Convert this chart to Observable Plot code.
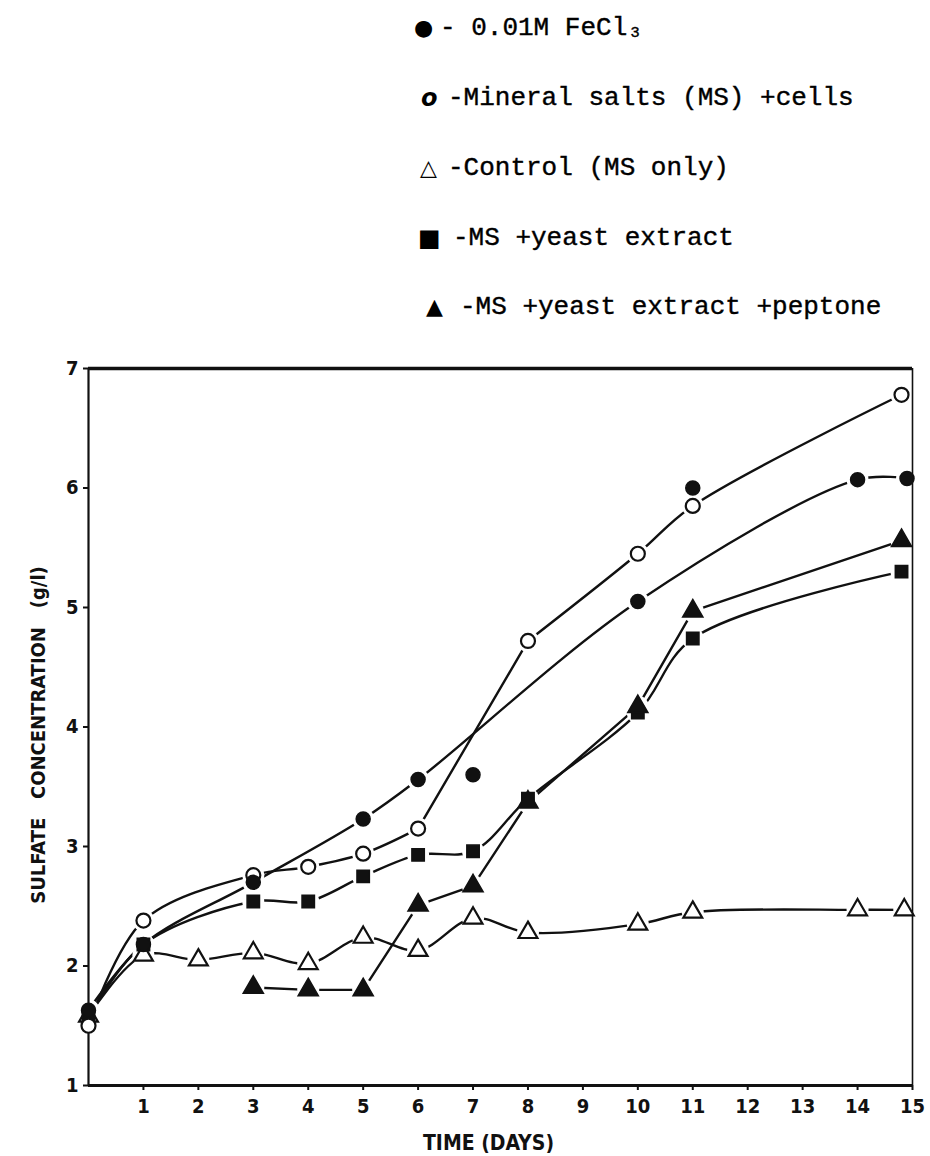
<!DOCTYPE html>
<html>
<head>
<meta charset="utf-8">
<script src="https://cdn.jsdelivr.net/npm/d3@7"></script>
<script src="https://cdn.jsdelivr.net/npm/@observablehq/plot@0.6"></script>
<style>
  html, body { margin: 0; padding: 0; background: #fff; }
  #page { position: relative; width: 930px; height: 1156px; overflow: hidden; }
  #legend { position: absolute; left: 0; top: 0; width: 930px; height: 340px;
    font-family: "Liberation Mono", "DejaVu Sans Mono", monospace; font-size: 26px; color: #000;
    -webkit-text-stroke: 0.4px #000; }
  .row { position: absolute; height: 30px; line-height: 30px; white-space: pre; }
  .sym { position: absolute; font-family: "DejaVu Sans", sans-serif; -webkit-text-stroke: 0; }
  #chart { position: absolute; left: 0; top: 340px; }
</style>
</head>
<body>
<div id="page">
  <div id="legend"></div>
  <div id="chart"></div>
</div>
<script>
// ---- Data (sulfate concentration, g/l, vs time, days) ----
const fecl3Days = [0, 1, 3, 5, 6, 10, 14, 14.9];
const fecl3Values = [1.63, 2.18, 2.70, 3.23, 3.56, 5.05, 6.07, 6.08];
const fecl3ExtraDays = [7, 11];          // plotted points not on the curve
const fecl3ExtraValues = [3.60, 6.00];

const msCellsDays = [0, 1, 3, 4, 5, 6, 8, 10, 11, 14.8];
const msCellsValues = [1.50, 2.38, 2.76, 2.83, 2.94, 3.15, 4.72, 5.45, 5.85, 6.78];

const controlDays = [0, 1, 2, 3, 4, 5, 6, 7, 8, 10, 11, 14, 14.85];
const controlValues = [1.58, 2.09, 2.05, 2.11, 2.02, 2.24, 2.13, 2.40, 2.28, 2.35, 2.45, 2.47, 2.47];

const yeastDays = [0, 1, 3, 4, 5, 6, 7, 8, 10, 11, 14.8];
const yeastValues = [1.57, 2.18, 2.54, 2.54, 2.75, 2.93, 2.96, 3.40, 4.12, 4.74, 5.30];

const peptoneDays = [3, 4, 5, 6, 7, 8, 10, 11, 14.8];
const peptoneValues = [1.82, 1.80, 1.80, 2.51, 2.67, 3.37, 4.17, 4.97, 5.56];

const xTicks = [1, 2, 3, 4, 5, 6, 7, 8, 9, 10, 11, 12, 13, 14, 15];
const yTicks = [1, 2, 3, 4, 5, 6, 7];

const seriesNames = [
  "- 0.01M FeCl\u2083",
  "-Mineral salts (MS) +cells",
  "-Control (MS only)",
  "-MS +yeast extract",
  "-MS +yeast extract +peptone"
];
const xTitle = "TIME (DAYS)";
const yTitle = "SULFATE   CONCENTRATION   (g/l)";

// ---- Build tables ----
const zip = (days, vals) => days.map((d, i) => ({day: d, value: vals[i]}));
const fecl3 = zip(fecl3Days, fecl3Values);
const fecl3Extra = zip(fecl3ExtraDays, fecl3ExtraValues);
const msCells = zip(msCellsDays, msCellsValues);
const control = zip(controlDays, controlValues);
const yeast = zip(yeastDays, yeastValues);
const peptone = zip(peptoneDays, peptoneValues);
const allPoints = [...fecl3, ...fecl3Extra, ...msCells, ...control, ...yeast, ...peptone];

const lineOpts = {x: "day", y: "value", stroke: "#111", strokeWidth: 2.4};
const R = 7;

const chart = Plot.plot({
  width: 930,
  height: 816,
  marginTop: 28,
  marginBottom: 71,
  marginLeft: 88,
  marginRight: 18,
  x: {domain: [0, 15]},
  y: {domain: [1, 7]},
  style: "background: white; overflow: visible; font-family: 'DejaVu Sans Condensed','DejaVu Sans',sans-serif; font-stretch: condensed; font-weight: bold; font-size: 20px; color: #111;",
  marks: [
    Plot.line(fecl3, {...lineOpts, curve: "catmull-rom"}),
    // the MS + cells curve is hand-drawn smooth, with a straight rise between days 6 and 8
    Plot.line(msCells.filter(d => d.day <= 6), {...lineOpts, curve: "catmull-rom"}),
    Plot.line(msCells.filter(d => d.day >= 6 && d.day <= 8), {...lineOpts, curve: "linear"}),
    Plot.line(msCells.filter(d => d.day >= 8), {...lineOpts, curve: "catmull-rom"}),
    Plot.line(yeast, {...lineOpts, curve: "catmull-rom"}),
    Plot.line(peptone, {...lineOpts, curve: "linear"}),
    Plot.line(control, {...lineOpts, curve: "catmull-rom"}),
    // white halos leave the small gaps around each marker
    Plot.dot(allPoints, {x: "day", y: "value", r: 11, fill: "white", stroke: "none"}),
    // frame
    Plot.ruleY([7], {stroke: "#111", strokeWidth: 3.5}),
    Plot.ruleY([1], {stroke: "#111", strokeWidth: 3}),
    Plot.ruleX([0], {stroke: "#111", strokeWidth: 2.2}),
    Plot.ruleX([15], {stroke: "#111", strokeWidth: 1.6}),
    Plot.axisX({ticks: xTicks, tickFormat: d => d, tickSize: 5, tickPadding: 8, label: null, strokeWidth: 2}),
    Plot.axisY({ticks: yTicks, tickFormat: d => d, tickSize: 5, tickPadding: 5, label: null, strokeWidth: 2}),
    Plot.text([yTitle], {frameAnchor: "left", textAnchor: "middle", rotate: -90, dx: -50, dy: 8, fontSize: 20, fontWeight: "bold"}),
    Plot.text([xTitle], {frameAnchor: "bottom", dy: 64, dx: -12, fontSize: 21, fontWeight: "bold"}),
    // markers
    Plot.dot(control, {x: "day", y: "value", symbol: "triangle", r: R, fill: "white", stroke: "#111", strokeWidth: 2.2}),
    Plot.dot(yeast, {x: "day", y: "value", symbol: "square", r: R, fill: "#111", stroke: "#111"}),
    Plot.dot(peptone, {x: "day", y: "value", symbol: "triangle", r: R + 0.5, fill: "#111", stroke: "#111"}),
    Plot.dot(msCells, {x: "day", y: "value", symbol: "circle", r: R, fill: "white", stroke: "#111", strokeWidth: 2.2}),
    Plot.dot(fecl3, {x: "day", y: "value", symbol: "circle", r: R, fill: "#111", stroke: "#111"}),
    Plot.dot(fecl3Extra, {x: "day", y: "value", symbol: "circle", r: R, fill: "#111", stroke: "#111"})
  ]
});
document.getElementById("chart").appendChild(chart);

// ---- Legend (above the chart) ----
const legendRows = [
  {sym: "\u25CF", symX: 414, textX: 440, y: 28, size: 22, style: ""},
  {sym: "o",      symX: 421, textX: 448, y: 98, size: 24, style: "font-style: italic; font-weight: bold;"},
  {sym: "\u25B3", symX: 420, textX: 448, y: 168, size: 22, style: "font-weight: bold;"},
  {sym: "\u25A0", symX: 418, textX: 453, y: 238, size: 24, style: ""},
  {sym: "\u25B2", symX: 426, textX: 460, y: 307, size: 22, style: ""}
];
const legend = document.getElementById("legend");
legendRows.forEach((r, i) => {
  const s = document.createElement("div");
  s.className = "row sym";
  s.style.cssText = `left:${r.symX}px; top:${r.y - 15}px; font-size:${r.size}px; ${r.style}`;
  s.textContent = r.sym;
  legend.appendChild(s);
  const t = document.createElement("div");
  t.className = "row";
  t.style.left = r.textX + "px";
  t.style.top = (r.y - 15) + "px";
  t.textContent = seriesNames[i];
  legend.appendChild(t);
});
</script>
</body>
</html>
